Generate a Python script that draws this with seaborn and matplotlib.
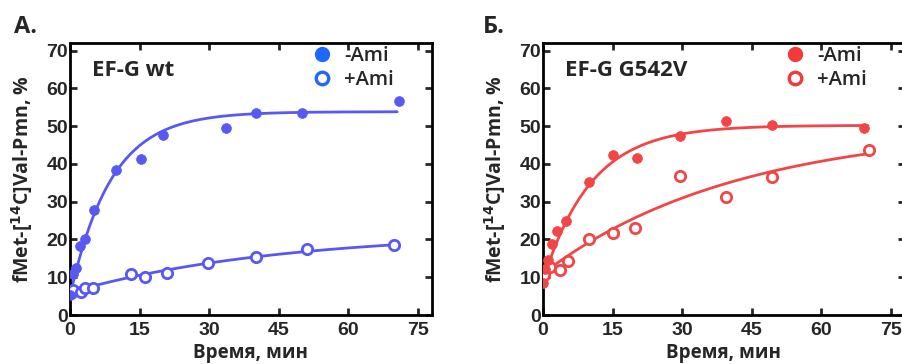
import numpy as np
import pandas as pd
import matplotlib.pyplot as plt
import matplotlib.lines as mlines
import seaborn as sns

# ── Data ─────────────────────────────────────────────────────────────────────
# Panel A: EF-G wt
wt_minus_t = [0.1, 0.7, 1.3, 2.2, 3.2, 5.2, 10.0, 15.2, 20.1, 33.6, 40.0, 50.0, 70.9]
wt_minus_y = [5.3, 10.8, 12.5, 18.2, 20.2, 27.7, 38.3, 41.3, 47.7, 49.6, 53.4, 53.4, 56.6]
wt_plus_t = [0.2, 0.7, 2.3, 3.2, 5.0, 13.1, 16.1, 21.0, 29.8, 40.0, 51.0, 69.8]
wt_plus_y = [5.8, 6.6, 6.0, 7.1, 7.2, 10.8, 10.0, 11.2, 13.8, 15.4, 17.6, 18.4]

# Panel B: EF-G G542V
mut_minus_t = [0.05, 0.4, 1.1, 2.0, 3.1, 5.0, 10.0, 15.0, 20.3, 29.6, 39.5, 49.4, 69.2]
mut_minus_y = [8.6, 12.1, 14.5, 18.9, 22.3, 24.8, 35.2, 42.3, 41.6, 47.3, 51.3, 50.4, 49.4]
mut_plus_t = [0.3, 1.5, 3.6, 5.4, 10.0, 15.0, 19.9, 29.6, 39.5, 49.4, 70.2]
mut_plus_y = [10.5, 12.8, 11.9, 14.3, 20.2, 21.6, 22.9, 36.8, 31.2, 36.5, 43.6]

# single-exponential fits (plateau, start, rate) as seen on the curves
fit_wt_minus = (53.8, 5.0, 0.113)
fit_wt_plus = (22.0, 6.0, 0.0221)
fit_mut_minus = (50.2, 9.0, 0.0965)
fit_mut_plus = (50.0, 11.0, 0.0239)

x_ticks = [0, 15, 30, 45, 60, 75]
y_ticks = [0, 10, 20, 30, 40, 50, 60, 70]

BLUE = "#5858f2"
BLUE_LEG = "#1f68ff"
RED = "#f24646"
RED_LEG = "#f23a3a"

sns.set_style("ticks")
plt.rcParams["font.family"] = ["Open Sans", "DejaVu Sans"]
plt.rcParams["axes.linewidth"] = 2.0
TICK_FONT = ["Liberation Sans Narrow", "Liberation Sans", "DejaVu Sans"]


def fit_curve(params, t_end):
    a, y0, k = params
    t = np.linspace(0, t_end, 200)
    return pd.DataFrame({"t": t, "y": a - (a - y0) * np.exp(-k * t)})


def draw_panel(ax, minus, plus, fits, color, leg_color, title, t_end):
    (mt, my), (pt, py) = minus, plus
    for params, end in zip(fits, t_end):
        sns.lineplot(data=fit_curve(params, end), x="t", y="y", ax=ax,
                     color=color, linewidth=2.0, zorder=2)
    sns.scatterplot(x=pt, y=py, ax=ax, s=55, facecolor="white",
                    edgecolor=color, linewidth=2.0, zorder=3)
    sns.scatterplot(x=mt, y=my, ax=ax, s=50, color=color,
                    edgecolor=color, linewidth=0.5, zorder=4)

    ax.set_xlim(0, 78)
    ax.set_ylim(0, 72)
    ax.set_xticks(x_ticks)
    ax.set_yticks(y_ticks)
    ax.tick_params(direction="in", length=5, width=2, top=True, right=True,
                   labelsize=14)
    ax.tick_params(axis="x", pad=5)
    ax.tick_params(axis="y", pad=1.5)
    for lab in ax.get_xticklabels() + ax.get_yticklabels():
        lab.set_family(TICK_FONT)
        lab.set_fontweight("bold")
    for sp in ax.spines.values():
        sp.set_visible(True)
        sp.set_linewidth(2.0)
        sp.set_color("black")

    ax.set_xlabel("Время, мин", fontsize=13.5, fontweight="bold", labelpad=3)
    ax.set_ylabel("fMet-[$^{\\mathbf{14}}$C]Val-Pmn, %", fontsize=14,
                  fontweight="bold", labelpad=8)
    ax.text(0.06, 0.90, title, transform=ax.transAxes, fontsize=16,
            fontweight="bold", va="center")

    h1 = mlines.Line2D([], [], linestyle="none", marker="o", markersize=10,
                       color=leg_color, label="-Ami")
    h2 = mlines.Line2D([], [], linestyle="none", marker="o", markersize=9,
                       markerfacecolor="white", markeredgecolor=leg_color,
                       markeredgewidth=2.4, label="+Ami")
    ax.legend(handles=[h1, h2], loc="upper left", frameon=False,
              prop={"size": 14.5, "weight": "semibold"},
              handletextpad=0.5, labelspacing=0.2, handlelength=1.2,
              borderaxespad=0.0, bbox_to_anchor=(0.64, 1.02))


fig = plt.figure(figsize=(9.02, 3.64), dpi=100)
ax1 = fig.add_axes([0.0776, 0.1346, 0.4013, 0.7474])
ax2 = fig.add_axes([0.602, 0.1346, 0.4013, 0.7474])

draw_panel(ax1, (wt_minus_t, wt_minus_y), (wt_plus_t, wt_plus_y),
           (fit_wt_minus, fit_wt_plus), BLUE, BLUE_LEG, "EF-G wt", (70.5, 70.0))
draw_panel(ax2, (mut_minus_t, mut_minus_y), (mut_plus_t, mut_plus_y),
           (fit_mut_minus, fit_mut_plus), RED, RED_LEG, "EF-G G542V", (70.0, 70.0))

fig.text(0.015, 0.926, "А.", fontsize=17, fontweight="bold", va="center")
fig.text(0.535, 0.926, "Б.", fontsize=17, fontweight="bold", va="center")

fig.savefig("out.png", dpi=100)
